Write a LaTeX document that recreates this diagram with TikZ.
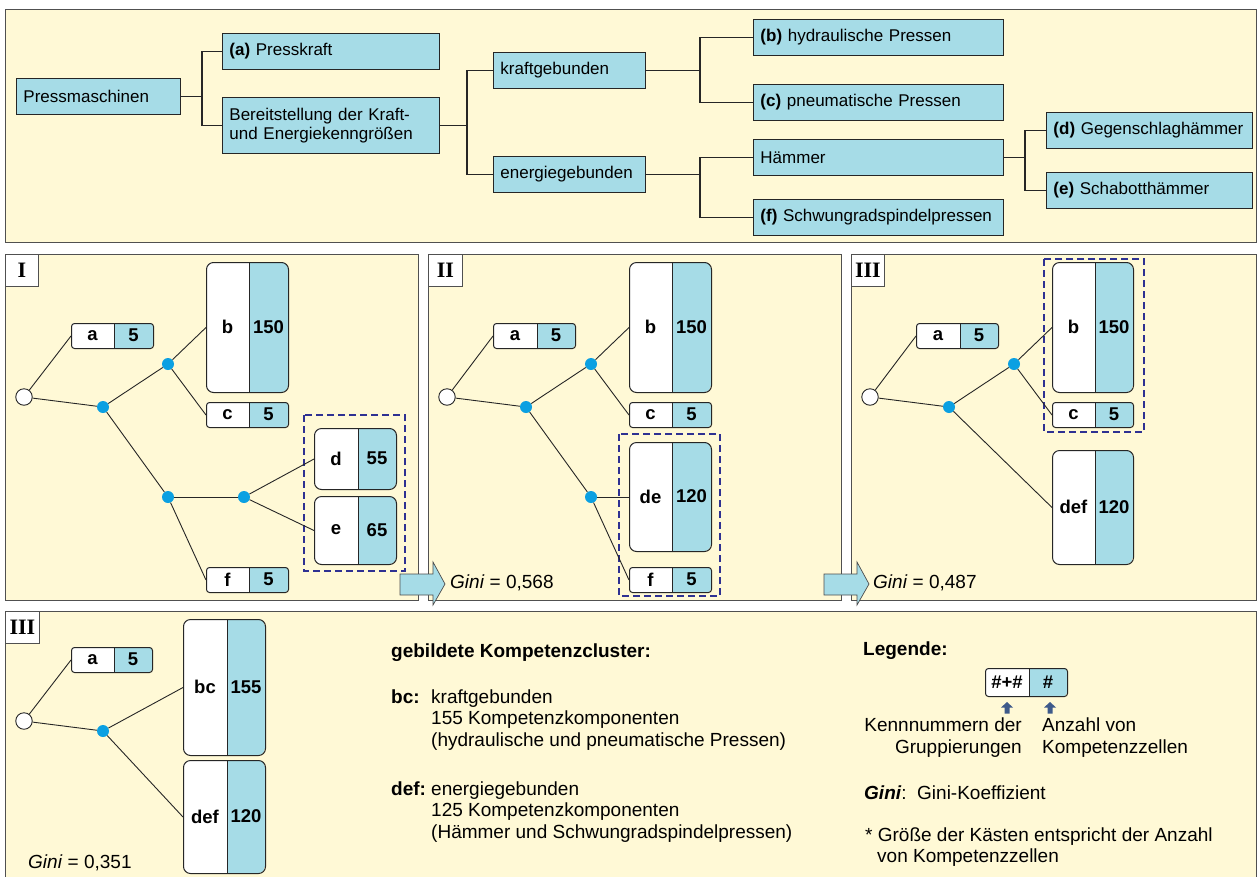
\documentclass[tikz,border=0pt]{standalone}
\usepackage{fontspec}
\setmainfont{Liberation Sans}
\newfontfamily\timesfont{Liberation Serif}
\definecolor{ybg}{HTML}{FFF9D6}
\definecolor{lb}{HTML}{A6DCE7}
\definecolor{bcol}{HTML}{262626}
\definecolor{pcol}{HTML}{505050}
\definecolor{nblue}{HTML}{0BA0E2}
\definecolor{dblue}{HTML}{2E3192}
\definecolor{sarrow}{HTML}{3E5A8A}
\tikzset{
 tbox/.style={draw=bcol, fill=lb, line width=0.9pt, inner xsep=7pt, inner ysep=0pt, align=left, anchor=north west, font=\fontsize{17}{19}\selectfont},
 conn/.style={draw=bcol, line width=1.8pt},
 tline/.style={draw=bcol, line width=0.9pt},
 boxline/.style={draw=bcol, line width=1pt},
 panel/.style={draw=pcol, fill=ybg, line width=0.9pt},
 plabel/.style={draw=pcol, fill=white, line width=0.9pt, inner sep=0pt, anchor=north west, font=\timesfont\bfseries\fontsize{22}{22}\selectfont},
 rootc/.style={circle, draw=bcol, fill=white, line width=0.9pt, minimum size=16.5pt, inner sep=0pt},
 bnode/.style={circle, fill=nblue, minimum size=12pt, inner sep=0pt},
 dashbox/.style={draw=dblue, line width=1.3pt, dash pattern=on 7pt off 4pt},
 cnum/.style={font=\bfseries\fontsize{18.5}{18.5}\selectfont, inner sep=0pt},
 btxt/.style={font=\fontsize{19}{21.5}\selectfont, inner sep=0pt, anchor=base west},
 barrow/.style={fill=lb, draw=gray!60!black, line width=0.7pt},
}
% two-part box: name, x1, y1, xdiv, x2, y2, left text, right text, corner radius
\newcommand{\cbox}[9]{%
 \begin{scope}
  \clip[rounded corners=#9pt] (#2,#3) rectangle (#5,#6);
  \fill[white] (#2,#3) rectangle (#4,#6);
  \fill[lb] (#4,#3) rectangle (#5,#6);
 \end{scope}
 \draw[boxline] (#4,#3) -- (#4,#6);
 \node[boxline, rounded corners=#9pt, inner sep=0pt, minimum width={(#5-#2)*1pt}, minimum height={(#6-#3)*1pt}, anchor=north west] (#1) at (#2,#3) {};
 \node[cnum] (#1L) at ({(#2+#4)/2},{(#3+#6)/2}) {#7};
 \node[cnum] (#1R) at ({(#4+#5)/2},{(#3+#6)/2}) {#8};
}
\newcommand{\blockarrow}[1]{%
 \draw[barrow] (#1,574) -- ++(33,0) -- ++(0,-12) -- ++(12,22) -- ++(-12,21) -- ++(0,-10) -- ++(-33,0) -- cycle;
}
\newcommand{\uparrowsmall}[1]{%
 \fill[sarrow] (#1,702) -- ++(6,5.5) -- ++(-3.5,0) -- ++(0,6) -- ++(-5,0) -- ++(0,-6) -- ++(-3.5,0) -- cycle;
}
\begin{document}
\begin{tikzpicture}[x=1pt,y=-1pt]
\useasboundingbox (0,0) rectangle (1258,876);
\fill[white] (0,0) rectangle (1258,876);

% ---------------- top panel ----------------
\draw[panel] (5,9) rectangle (1256,242);
\node[tbox, text width=150pt, minimum height=36pt] (press) at (16,78) {Pressmaschinen};
\node[tbox, text width=203pt, minimum height=36pt] (ta) at (222,33) {\textbf{(a)} Presskraft};
\node[tbox, text width=203pt, minimum height=56pt] (ber) at (222,97) {Bereitstellung der Kraft-\\und Energiekenngrößen};
\node[tbox, text width=138pt, minimum height=36pt] (kraft) at (493,52) {kraftgebunden};
\node[tbox, text width=138pt, minimum height=36pt] (energ) at (493,156) {energiegebunden};
\node[tbox, text width=236pt, minimum height=36pt] (tb) at (753,19) {\textbf{(b)} hydraulische Pressen};
\node[tbox, text width=236pt, minimum height=36pt] (tc) at (753,84) {\textbf{(c)} pneumatische Pressen};
\node[tbox, text width=236pt, minimum height=36pt] (haem) at (753,139) {Hämmer};
\node[tbox, text width=236pt, minimum height=36pt] (tf) at (753,199) {\textbf{(f)} Schwungradspindelpressen};
\node[tbox, text width=192pt, minimum height=36pt] (td) at (1046,112) {\textbf{(d)} Gegenschlaghämmer};
\node[tbox, text width=192pt, minimum height=36pt] (te) at (1046,172) {\textbf{(e)} Schabotthämmer};

\draw[conn] (press.east) -- ++(21,0) coordinate (j1);
\draw[conn] (j1) |- (ta.west);
\draw[conn] (j1) |- (ber.west);
\draw[conn] (ber.east) -- ++(27,0) coordinate (j2);
\draw[conn] (j2) |- (kraft.west);
\draw[conn] (j2) |- (energ.west);
\draw[conn] (kraft.east) -- ++(54,0) coordinate (j3);
\draw[conn] (j3) |- (tb.west);
\draw[conn] (j3) |- (tc.west);
\draw[conn] (energ.east) -- ++(54,0) coordinate (j4);
\draw[conn] (j4) |- (haem.west);
\draw[conn] (j4) |- (tf.west);
\draw[conn] (haem.east) -- ++(21,0) coordinate (j5);
\draw[conn] (j5) |- (td.west);
\draw[conn] (j5) |- (te.west);

% ---------------- panel I ----------------
\draw[panel] (5,254) rectangle (418,600);
\node[plabel, minimum width=33pt, minimum height=32pt] (LI) at (5,254) {I};
\cbox{Ia}{71}{323}{114}{153}{348}{a}{5}{3}
\cbox{Ib}{206}{262}{249}{288}{392}{b}{150}{7}
\cbox{Ic}{206}{402}{249}{288}{427}{c}{5}{3}
\draw[dashbox] (304,415) rectangle (405,571);
\cbox{Id}{314}{428}{358}{396}{489}{d}{55}{7}
\cbox{Ie}{314}{496}{358}{396}{564}{e}{65}{7}
\cbox{If}{206}{567}{249}{288}{592}{f}{5}{3}
\node[rootc] (Ir) at (24,397) {};
\node[bnode] (In1) at (103,407) {};
\node[bnode] (In2) at (168,364) {};
\node[bnode] (In3) at (168,497) {};
\node[bnode] (In4) at (244,497) {};
\draw[tline] (Ir) -- (Ia.west);
\draw[tline] (Ir) -- (In1);
\draw[tline] (In1) -- (In2);
\draw[tline] (In2) -- (Ib.west);
\draw[tline] (In2) -- (Ic.west);
\draw[tline] (In1) -- (In3);
\draw[tline] (In3) -- (In4);
\draw[tline] (In3) -- (If.west);
\draw[tline] (In4) -- (Id.west);
\draw[tline] (In4) -- (Ie.west);

% ---------------- panel II ----------------
\begin{scope}[shift={(423,0)}]
\draw[panel] (5,254) rectangle (418,600);
\node[plabel, minimum width=34pt, minimum height=32pt] (LII) at (5,254) {II};
\cbox{IIa}{70}{323}{114}{152}{348}{a}{5}{3}
\cbox{IIb}{206}{262}{249}{288}{392}{b}{150}{7}
\cbox{IIc}{206}{402}{249}{288}{427}{c}{5}{3}
\draw[dashbox] (196,434) rectangle (297,596);
\cbox{IIde}{206}{442}{249}{288}{551}{de}{120}{7}
\cbox{IIf}{206}{567}{249}{288}{592}{f}{5}{3}
\node[rootc] (IIr) at (24,397) {};
\node[bnode] (IIn1) at (103,407) {};
\node[bnode] (IIn2) at (168,364) {};
\node[bnode] (IIn3) at (168,497) {};
\draw[tline] (IIr) -- (IIa.west);
\draw[tline] (IIr) -- (IIn1);
\draw[tline] (IIn1) -- (IIn2);
\draw[tline] (IIn2) -- (IIb.west);
\draw[tline] (IIn2) -- (IIc.west);
\draw[tline] (IIn1) -- (IIn3);
\draw[tline] (IIn3) -- (IIde.west);
\draw[tline] (IIn3) -- (IIf.west);
\end{scope}

% ---------------- panel III ----------------
\begin{scope}[shift={(846,0)}]
\draw[panel] (5,254) rectangle (410,600);
\node[plabel, minimum width=33pt, minimum height=32pt] (LIII) at (5,254) {III};
\cbox{IIIa}{70}{323}{114}{152}{348}{a}{5}{3}
\cbox{IIIb}{206}{262}{249}{287}{392}{b}{150}{7}
\cbox{IIIc}{206}{402}{249}{287}{427}{c}{5}{3}
\draw[dashbox] (198,259) rectangle (298,432);
\cbox{IIIdef}{206}{450}{249}{287}{564}{def}{120}{7}
\node[rootc] (IIIr) at (24,397) {};
\node[bnode] (IIIn1) at (103,407) {};
\node[bnode] (IIIn2) at (168,364) {};
\draw[tline] (IIIr) -- (IIIa.west);
\draw[tline] (IIIr) -- (IIIn1);
\draw[tline] (IIIn1) -- (IIIn2);
\draw[tline] (IIIn2) -- (IIIb.west);
\draw[tline] (IIIn2) -- (IIIc.west);
\draw[tline] (IIIn1) -- (IIIdef.west);
\end{scope}

% arrows and Gini values between panels
\blockarrow{400}
\blockarrow{824}
\node[btxt] (g1) at (450,588) {\textit{Gini} = 0,568};
\node[btxt] (g2) at (873,588) {\textit{Gini} = 0,487};

% ---------------- bottom panel ----------------
\fill[ybg] (5,611) rectangle (1256,880);
\draw[pcol, line width=0.9pt] (5,880) -- (5,611) -- (1256,611) -- (1256,880);
\node[plabel, minimum width=34pt, minimum height=32pt] (LIV) at (5,611) {III};
\cbox{Va}{71}{647}{114}{152}{672}{a}{5}{3}
\cbox{Vbc}{183}{619}{227}{265}{755}{bc}{155}{7}
\cbox{Vdef}{183}{760}{227}{265}{873}{def}{120}{7}
\node[rootc] (Vr) at (24,721) {};
\node[bnode] (Vn1) at (103,731) {};
\draw[tline] (Vr) -- (Va.west);
\draw[tline] (Vr) -- (Vn1);
\draw[tline] (Vn1) -- (Vbc.west);
\draw[tline] (Vn1) -- (Vdef.west);
\node[btxt] (g3) at (28,868) {\textit{Gini} = 0,351};

% cluster text
\node[btxt] (kc) at (391,657) {\textbf{gebildete Kompetenzcluster:}};
\node[btxt] (kbc) at (391,703) {\textbf{bc:}};
\node[btxt] (kbc1) at (431,703) {kraftgebunden};
\node[btxt] (kbc2) at (431,724.5) {155 Kompetenzkomponenten};
\node[btxt] (kbc3) at (431,746) {(hydraulische und pneumatische Pressen)};
\node[btxt] (kdef) at (391,795) {\textbf{def:}};
\node[btxt] (kdef1) at (431,795) {energiegebunden};
\node[btxt] (kdef2) at (431,816.5) {125 Kompetenzkomponenten};
\node[btxt] (kdef3) at (431,838) {(Hämmer und Schwungradspindelpressen)};

% legend
\node[btxt] (leg) at (863,655) {\textbf{Legende:}};
\cbox{lg}{985}{668}{1029}{1067}{696}{\#+\#}{\#}{3}
\uparrowsmall{1007}
\uparrowsmall{1050}
\node[btxt, anchor=base east] (l1) at (1022,731) {Kennnummern der};
\node[btxt, anchor=base east] (l2) at (1022,753) {Gruppierungen};
\node[btxt] (l3) at (1042,731) {Anzahl von};
\node[btxt] (l4) at (1042,753) {Kompetenzzellen};
\node[btxt] (l5) at (864,799) {\textbf{\textit{Gini}}:};
\node[btxt] (l6) at (917,799) {Gini-Koeffizient};
\node[btxt] (l7) at (865,841) {* Größe der Kästen entspricht der Anzahl};
\node[btxt] (l8) at (877,862) {von Kompetenzzellen};
\end{tikzpicture}
\end{document}
